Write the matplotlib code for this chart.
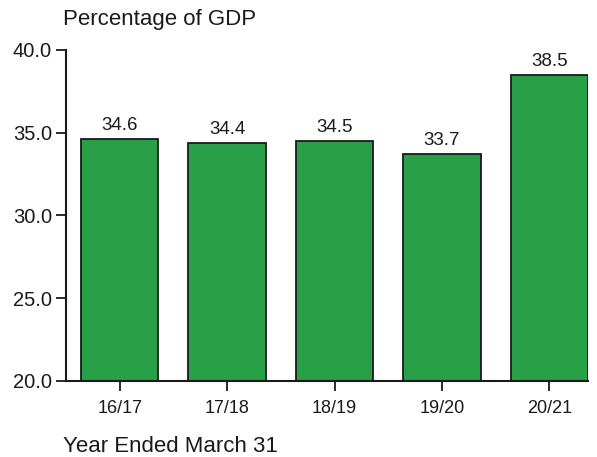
import matplotlib
matplotlib.use("Agg")
import matplotlib.pyplot as plt

categories = ["16/17", "17/18", "18/19", "19/20", "20/21"]
values = [34.6, 34.4, 34.5, 33.7, 38.5]
yticks = [20.0, 25.0, 30.0, 35.0, 40.0]

font = "Liberation Sans"
fig = plt.figure(figsize=(5.97, 4.57), dpi=100)
ax = fig.add_axes([66/597, 1-381/457, (588-66)/597, 331/457])
x = list(range(len(categories)))
ax.bar(x, values, width=0.72, color="#27A047", edgecolor="#1a1a1a", linewidth=1.3, zorder=2)
for xi, v in zip(x, values):
    ax.text(xi, v + 0.3, f"{v:.1f}", ha="center", va="bottom", fontsize=13.5, family=font, color="#1a1a1a")

ax.set_ylim(20, 40)
ax.set_xlim(-0.5, 4.36)
ax.set_yticks(yticks)
ax.set_yticklabels([f"{t:.1f}" for t in yticks], family=font, fontsize=14.5)
ax.set_xticks(x)
ax.set_xticklabels(categories, family=font, fontsize=13)
ax.tick_params(axis="both", direction="out", length=7, width=1.3, colors="#1a1a1a")
ax.tick_params(axis="x", pad=7)
ax.tick_params(axis="y", pad=3)
for s in ["top", "right"]:
    ax.spines[s].set_visible(False)
for s in ["left", "bottom"]:
    ax.spines[s].set_linewidth(1.5)
    ax.spines[s].set_color("#1a1a1a")

fig.text(63/597, 1-20/457, "Percentage of GDP", ha="left", va="center", fontsize=16, family=font, color="#1a1a1a")
fig.text(63/597, 1-446/457, "Year Ended March 31", ha="left", va="center", fontsize=16, family=font, color="#1a1a1a")

fig.savefig("out.png", dpi=100)
